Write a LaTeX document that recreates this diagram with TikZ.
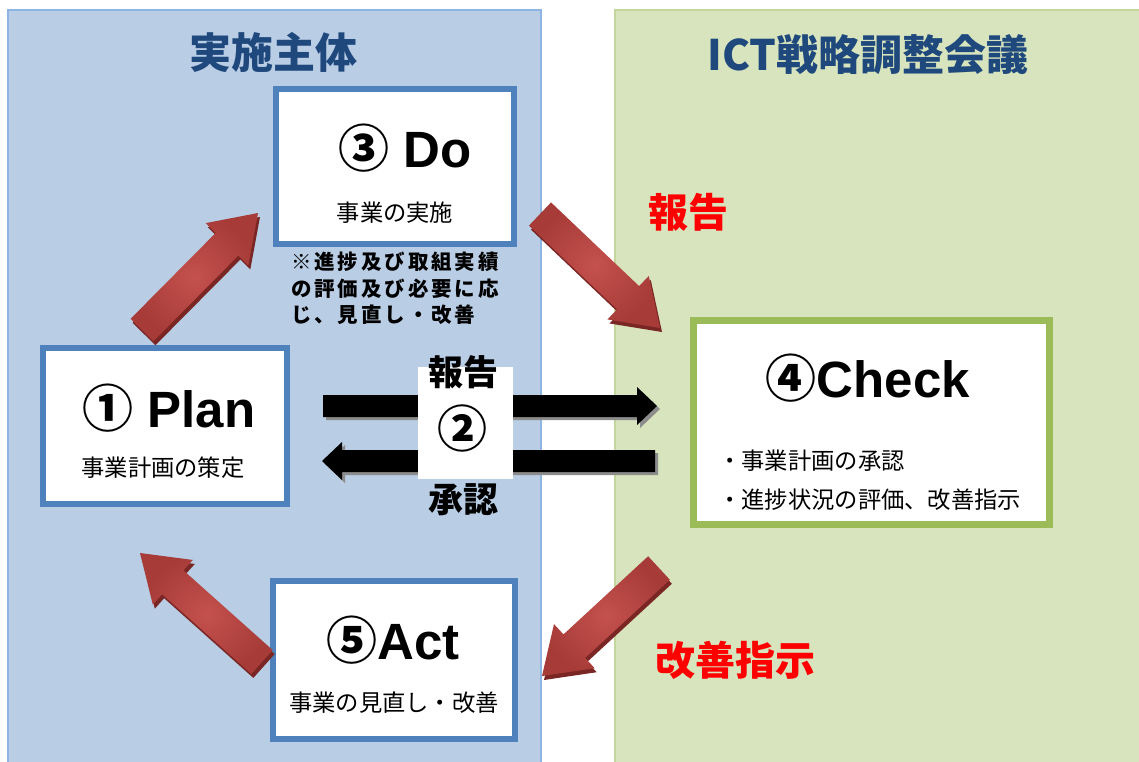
\documentclass[tikz,border=0pt]{standalone}
\usepackage{fontspec}
\newfontfamily\jp{Noto Sans CJK JP}
\newfontfamily\jpsp{Noto Sans CJK JP}[LetterSpace=14]
\newfontfamily\ar{Liberation Sans}
\usetikzlibrary{calc}
\definecolor{bluefill}{HTML}{B9CDE5}
\definecolor{blueline}{HTML}{8EB4E3}
\definecolor{greenfill}{HTML}{D7E4BD}
\definecolor{greenline}{HTML}{C3D69B}
\definecolor{boxblue}{HTML}{4F81BD}
\definecolor{boxgreen}{HTML}{9BBB59}
\definecolor{titleblue}{HTML}{1F497D}
\definecolor{arrowlight}{HTML}{C4514D}
\definecolor{arrowouter}{HTML}{A63B38}
\definecolor{arrowdark}{HTML}{7A2624}
\definecolor{shadowgray}{HTML}{8C8C8C}
\newcommand\blockarrow[6]{%
  \coordinate (#2-#3-h) at ($(#3)!#6!(#2)$);
  \path[#1] ($(#2)!#4!90:(#3)$) -- ($(#2-#3-h)!#4!90:(#3)$) -- ($(#2-#3-h)!#5!90:(#3)$) -- (#3)
    -- ($(#2-#3-h)!#5!-90:(#3)$) -- ($(#2-#3-h)!#4!-90:(#3)$) -- ($(#2)!#4!-90:(#3)$) -- cycle;
}
\newcommand\redarrow[2]{%
  \blockarrow{fill=arrowdark, transform canvas={shift={(2pt,-4pt)}}}{#1}{#2}{16pt}{30pt}{44pt}
  \blockarrow{shade, inner color=arrowlight, outer color=arrowouter}{#1}{#2}{16pt}{30pt}{44pt}
}
\newcommand\blackarrow[2]{%
  \blockarrow{fill=shadowgray, transform canvas={shift={(3pt,-3pt)}}}{#1}{#2}{11pt}{19pt}{20pt}
  \blockarrow{fill=black}{#1}{#2}{11pt}{19pt}{20pt}
}
\begin{document}
\begin{tikzpicture}[x=1pt,y=-1pt,
  bluebox/.style={draw=boxblue, fill=white, line width=6pt, inner sep=0pt},
  greenbox/.style={draw=boxgreen, fill=white, line width=7pt, inner sep=0pt},
  bigtitle/.style={inner sep=0pt, text=titleblue, font=\jp\bfseries\fontsize{42}{50}\selectfont},
  phase/.style={inner sep=0pt, font=\ar\bfseries\fontsize{51}{60}\selectfont},
  sub/.style={inner sep=0pt, font=\jp\fontsize{23.3}{28}\selectfont},
  redlabel/.style={inner sep=0pt, text=red, font=\jp\bfseries\fontsize{40}{48}\selectfont},
  midlabel/.style={inner sep=0pt, font=\jp\bfseries\fontsize{35}{42}\selectfont},
  note/.style={inner sep=0pt, align=left, font=\jpsp\bfseries\fontsize{20.5}{26.5}\selectfont}]
\useasboundingbox (0,0) rectangle (1139,761);
% panels
\path[fill=bluefill, draw=blueline, line width=1.5pt] (8,10) rectangle (541,775);
\path[fill=greenfill, draw=greenline, line width=1.5pt] (615,10) rectangle (1150,775);
\node[bigtitle] (t1) at (273,52) {実施主体};
\node[bigtitle] (t2) at (868,55) {ICT戦略調整会議};
% boxes
\node[bluebox, minimum width=238pt, minimum height=155pt] (do) at (395,166) {};
\node[bluebox, minimum width=244pt, minimum height=156pt] (plan) at (165,426) {};
\node[bluebox, minimum width=242pt, minimum height=158pt] (act) at (394,660) {};
\node[greenbox, minimum width=356pt, minimum height=204pt] (check) at (871.5,422.5) {};
% box texts
\node[phase] (dot) at (405,148) {{\jp ③} Do};
\node[sub] (dos) at (395,213) {事業の実施};
\node[phase] (plant) at (169,408) {{\jp ①} Plan};
\node[sub] (plans) at (163,468) {事業計画の策定};
\node[phase] (checkt) at (868,378) {{\jp ④}Check};
\node[sub, anchor=west] (checks1) at (718,461) {・事業計画の承認};
\node[sub, anchor=west] (checks2) at (718,500) {・進捗状況の評価、改善指示};
\node[phase] (actt) at (393,640) {{\jp ⑤}Act};
\node[sub] (acts) at (394,703) {事業の見直し・改善};
\node[note, anchor=north west] (nt) at (291,252) {※進捗及び取組実績\\の評価及び必要に応\\じ、見直し・改善};
% red arrows
\coordinate (a1s) at (142,330); \coordinate (a1t) at (258,213);
\coordinate (a2s) at (540,214); \coordinate (a2t) at (660,328);
\coordinate (a3s) at (659,568); \coordinate (a3t) at (542,676);
\coordinate (a4s) at (262,662); \coordinate (a4t) at (140,553);
\redarrow{a1s}{a1t}
\redarrow{a2s}{a2t}
\redarrow{a3s}{a3t}
\redarrow{a4s}{a4t}
\node[redlabel] (rl1) at (688,212) {報告};
\node[redlabel] (rl2) at (735,660) {改善指示};
% black arrows
\coordinate (b1s) at (323,406); \coordinate (b1t) at (657,406);
\coordinate (b2s) at (655,461); \coordinate (b2t) at (322,461);
\blackarrow{b1s}{b1t}
\blackarrow{b2s}{b2t}
\node[fill=white, minimum width=95pt, minimum height=112pt, inner sep=0pt] (mid) at (465.5,423) {};
\node[midlabel] (ml1) at (463,372) {報告};
\node[inner sep=0pt, font=\jp\bfseries\fontsize{50}{54}\selectfont] (ml2) at (462,428) {②};
\node[midlabel] (ml3) at (463,500) {承認};
\end{tikzpicture}
\end{document}
